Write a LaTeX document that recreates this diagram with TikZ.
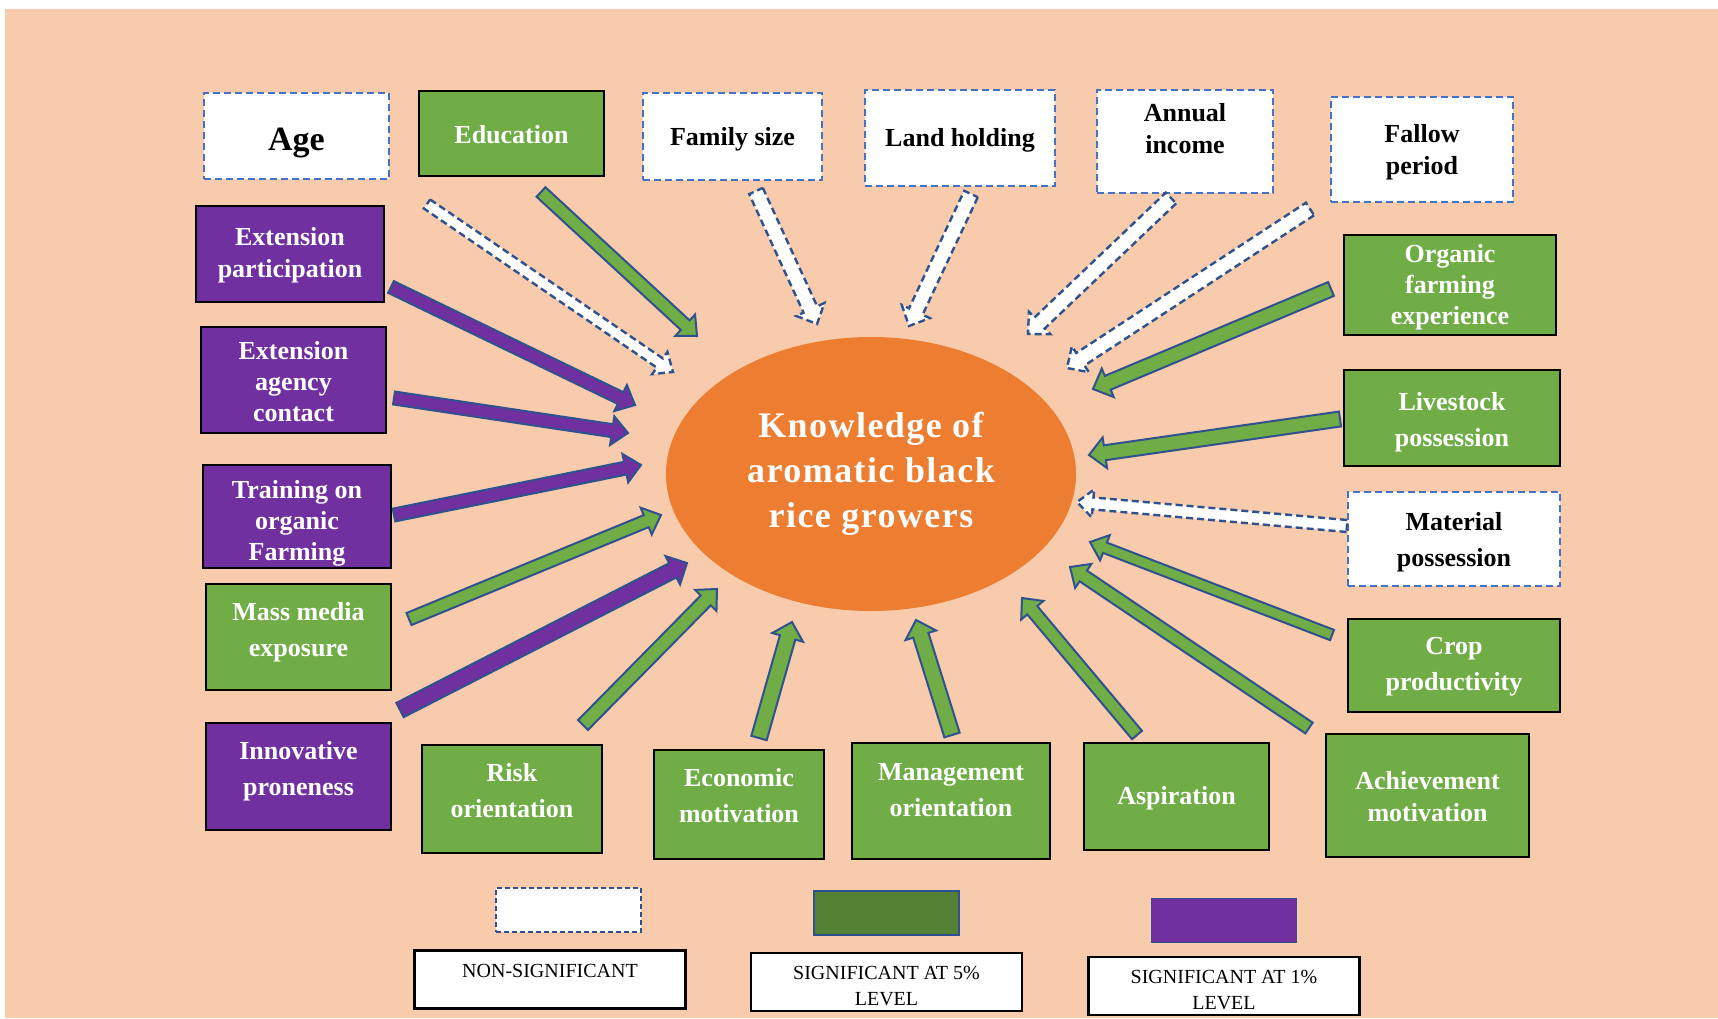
\documentclass[tikz,border=0pt]{standalone}
\usepackage{fontspec}
\setmainfont{Liberation Serif}
\newfontfamily\spacedserif[LetterSpace=4]{Liberation Serif}
\usetikzlibrary{shapes.geometric, calc, positioning}

\definecolor{bgpeach}{HTML}{F8CBAD}
\definecolor{sigfive}{HTML}{70AD47}
\definecolor{sigone}{HTML}{7030A0}
\definecolor{knoworange}{HTML}{ED7D31}
\definecolor{edgeblue}{HTML}{2F528F}
\definecolor{dashblue}{HTML}{4472C4}
\definecolor{swatchgreen}{HTML}{548235}

% block arrow: [half shaft width]{style}{name}{tail}{tip}
\newcommand{\blockarrow}[5][6.5]{%
  \coordinate (#3_t) at (#4);
  \coordinate (#3_h) at (#5);
  \coordinate (#3_b) at ($(#3_h)!16pt!(#3_t)$);
  \pgfmathsetmacro{\headw}{#1+8}
  \filldraw[#2] ($(#3_t)!#1pt!90:(#3_h)$) -- ($(#3_b)!#1pt!90:(#3_h)$)
    -- ($(#3_b)!\headw pt!90:(#3_h)$) -- (#3_h) -- ($(#3_b)!\headw pt!-90:(#3_h)$)
    -- ($(#3_b)!#1pt!-90:(#3_h)$) -- ($(#3_t)!#1pt!-90:(#3_h)$) -- cycle;
}
% strut to push a first line down
\newcommand{\topstrut}[1]{\rule{0pt}{#1pt}}

\begin{document}
\begin{tikzpicture}[x=1pt, y=-1pt,
    factor/.style={rectangle, inner sep=2pt, align=center, font=\bfseries\fontsize{26}{36}\selectfont},
    tight/.style={font=\bfseries\fontsize{26}{32}\selectfont},
    threeline/.style={font=\bfseries\fontsize{26}{31}\selectfont},
    sz/.style 2 args={minimum width=#1pt, minimum height=#2pt},
    nsbox/.style={factor, fill=white, draw=dashblue, line width=2.5pt, dash pattern=on 7pt off 4pt},
    gbox/.style={factor, fill=sigfive, draw=black, line width=2.5pt, text=white},
    pbox/.style={factor, fill=sigone, draw=black, line width=2.5pt, text=white},
    know/.style={ellipse, fill=knoworange, minimum width=410pt, minimum height=274pt, inner sep=0pt, align=center, text=white, font=\spacedserif\bfseries\fontsize{36}{45}\selectfont},
    nsarrow/.style={fill=white, draw=edgeblue, line width=2.4pt, dash pattern=on 7pt off 4pt},
    garrow/.style={fill=sigfive, draw=edgeblue, line width=2pt},
    parrow/.style={fill=sigone, draw=edgeblue, line width=2pt},
    legbox/.style={rectangle, fill=white, draw=black, line width=2.5pt, align=center, font=\fontsize{20}{26}\selectfont, minimum width=271pt, minimum height=58pt},
    swatch/.style={rectangle, minimum width=145pt, minimum height=44pt}
]

% Background
\fill[white] (0,0) rectangle (1718,1018);
\fill[bgpeach] (5,9) rectangle (1718,1018);
\useasboundingbox (0,0) rectangle (1718,1018);

% Top row
\node[nsbox, sz={185}{86}, font=\bfseries\fontsize{34}{40}\selectfont] (f_age) at (296.5,136) {\topstrut{36}Age};
\node[gbox, sz={185}{85}] (f_edu) at (511.5,133.5) {\topstrut{20}Education};
\node[nsbox, sz={179}{87}] (f_fam) at (732.5,136.5) {\topstrut{23}Family size};
\node[nsbox, sz={190}{96}] (f_land) at (960,138) {\topstrut{22}Land holding};
\node[nsbox, tight, sz={176}{103}, text depth=28pt] (f_ann) at (1185,141.5) {\topstrut{20}Annual\\income};
\node[nsbox, tight, sz={182}{105}] (f_fal) at (1422,149.5) {\topstrut{24}Fallow\\period};

% Right column
\node[gbox, threeline, sz={212}{100}] (f_org) at (1450,285) {\topstrut{22}Organic\\farming\\experience};
\node[gbox, sz={216}{96}] (f_live) at (1452,418) {\topstrut{26}Livestock\\possession};
\node[nsbox, sz={212}{94}] (f_mat) at (1454,539) {\topstrut{24}Material\\possession};
\node[gbox, sz={212}{93}] (f_crop) at (1454,665.5) {\topstrut{20}Crop\\productivity};
\node[gbox, tight, sz={203}{123}] (f_ach) at (1427.5,795.5) {\topstrut{21}Achievement\\motivation};

% Bottom row
\node[gbox, sz={185}{107}] (f_asp) at (1176.5,796.5) {\topstrut{22}Aspiration};
\node[gbox, sz={198}{116}, text depth=26pt] (f_mgmt) at (951,801) {\topstrut{21}Management\\orientation};
\node[gbox, sz={170}{109}, text depth=22pt] (f_eco) at (739,804.5) {\topstrut{22}Economic\\motivation};
\node[gbox, sz={180}{108}, text depth=22pt] (f_risk) at (512,799) {\topstrut{22}Risk\\orientation};

% Left column
\node[pbox, sz={185}{107}, text depth=20pt] (f_inno) at (298.5,776.5) {\topstrut{21}Innovative\\proneness};
\node[gbox, sz={185}{106}, text depth=18pt] (f_mass) at (298.5,637) {\topstrut{21}Mass media\\exposure};
\node[pbox, threeline, sz={188}{103}] (f_train) at (297,516.5) {\topstrut{31}Training on\\organic\\Farming};
\node[pbox, threeline, sz={185}{106}] (f_agency) at (293.5,380) {\topstrut{22}Extension\\agency\\contact};
\node[pbox, tight, sz={188}{96}] (f_part) at (290,254) {\topstrut{21}Extension\\participation};

% Centre
\node[know] (know) at (871,474) {Knowledge of\\aromatic black\\rice growers};

% Arrows into the centre
\blockarrow[5.5]{nsarrow}{a_age}{427,204}{673,372}
\blockarrow[6.5]{garrow}{a_edu}{541,192}{697,336}
\blockarrow[7.5]{nsarrow}{a_fam}{756,191}{817,324}
\blockarrow[7.5]{nsarrow}{a_land}{971,194}{909,326}
\blockarrow[7.5]{nsarrow}{a_ann}{1171,198}{1028,334}
\blockarrow[7.5]{nsarrow}{a_fal}{1310,209}{1067,368}
\blockarrow[7.5]{garrow}{a_org}{1331,289}{1093,389}
\blockarrow[7.5]{garrow}{a_live}{1340,419}{1089,455}
\blockarrow[6]{nsarrow}{a_mat}{1347,526}{1077,502}
\blockarrow[5.5]{garrow}{a_crop}{1332,635}{1090,542}
\blockarrow[6.5]{garrow}{a_ach}{1309,728}{1070,567}
\blockarrow[6.5]{garrow}{a_asp}{1137,735}{1022,598}
\blockarrow[8]{garrow}{a_mgmt}{952,735}{916,620}
\blockarrow[8]{garrow}{a_eco}{759,738}{792,622}
\blockarrow[7]{garrow}{a_risk}{583,725}{717,589}
\blockarrow[8]{parrow}{a_inno}{400,710}{687,563}
\blockarrow[6.5]{garrow}{a_mass}{409,619}{661,515}
\blockarrow[6.5]{parrow}{a_train}{394,515}{641,465}
\blockarrow[6.5]{parrow}{a_agency}{394,398}{628,433}
\blockarrow[6.5]{parrow}{a_part}{391,287}{635,405}

% Legend
\node[legbox, text depth=18pt] (leg_ns) at (550,979.5) {NON-SIGNIFICANT};
\node[legbox] (leg_five) at (886.5,982) {\topstrut{22}SIGNIFICANT AT 5\%\\LEVEL};
\node[legbox] (leg_one) at (1224,986) {\topstrut{22}SIGNIFICANT AT 1\%\\LEVEL};
\node[swatch, fill=white, draw=edgeblue, line width=2pt, dash pattern=on 5pt off 3pt, above=16pt of leg_ns, xshift=18pt] (sw_ns) {};
\node[swatch, fill=swatchgreen, draw=edgeblue, line width=1.5pt, above=16pt of leg_five] (sw_five) {};
\node[swatch, fill=sigone, draw=edgeblue, line width=1pt, above=13pt of leg_one] (sw_one) {};

\end{tikzpicture}
\end{document}
